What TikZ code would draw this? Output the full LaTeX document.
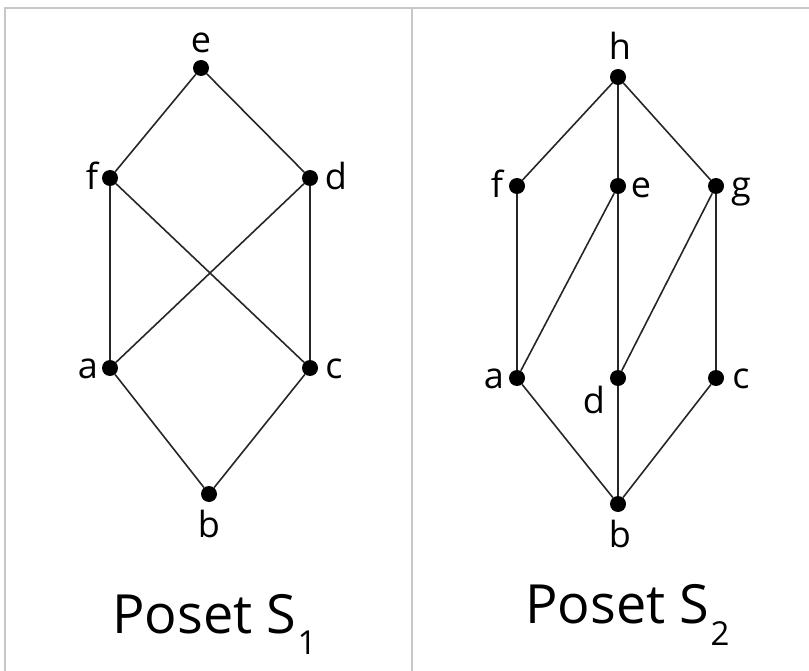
\documentclass[tikz,border=0pt]{standalone}
\usepackage{fontspec}
\setmainfont{Open Sans}
\begin{document}
\begin{tikzpicture}[x=1pt,y=-1pt,
  dot/.style={circle,fill=black,inner sep=0pt,minimum size=16pt},
  lbl/.style={anchor=base,inner sep=0pt,font=\fontsize{36}{36}\selectfont},
  ttl/.style={anchor=base west,inner sep=0pt,font=\fontsize{54}{54}\selectfont},
  sub/.style={anchor=base west,inner sep=0pt,font=\fontsize{33}{33}\selectfont},
  edge/.style={line width=1.6pt,black!85},
  frame/.style={line width=2pt,black!22}]
\useasboundingbox (0,0) rectangle (809,671);
% frame
\coordinate (fTL) at (5,8);
\coordinate (fTR) at (809,8);
\coordinate (fBL) at (5,671);
\coordinate (fMT) at (412,8);
\coordinate (fMB) at (412,671);
\draw[frame] (fBL) -- (fTL) -- (fTR);
\draw[frame] (fMT) -- (fMB);
% S1 nodes
\node[dot] (e1) at (201,68) {};
\node[dot] (f1) at (110,178) {};
\node[dot] (d1) at (310,178) {};
\node[dot] (a1) at (110,368) {};
\node[dot] (c1) at (310,368) {};
\node[dot] (b1) at (209,494) {};
\draw[edge] (e1) -- (f1);
\draw[edge] (e1) -- (d1);
\draw[edge] (f1) -- (a1);
\draw[edge] (f1) -- (c1);
\draw[edge] (d1) -- (a1);
\draw[edge] (d1) -- (c1);
\draw[edge] (a1) -- (b1);
\draw[edge] (c1) -- (b1);
\node[lbl] (le1) at (201,53) {e};
\node[lbl] (lf1) at (92,190) {f};
\node[lbl] (ld1) at (336,190) {d};
\node[lbl] (la1) at (88,378) {a};
\node[lbl] (lc1) at (334,378) {c};
\node[lbl] (lb1) at (209,537) {b};
% S2 nodes
\node[dot] (h2) at (618,77) {};
\node[dot] (f2) at (517,186) {};
\node[dot] (e2) at (618,186) {};
\node[dot] (g2) at (716,186) {};
\node[dot] (a2) at (517,378) {};
\node[dot] (d2) at (618,378) {};
\node[dot] (c2) at (716,378) {};
\node[dot] (b2) at (618,504) {};
\draw[edge] (h2) -- (f2);
\draw[edge] (h2) -- (e2);
\draw[edge] (h2) -- (g2);
\draw[edge] (f2) -- (a2);
\draw[edge] (e2) -- (a2);
\draw[edge] (e2) -- (d2);
\draw[edge] (g2) -- (d2);
\draw[edge] (g2) -- (c2);
\draw[edge] (a2) -- (b2);
\draw[edge] (d2) -- (b2);
\draw[edge] (c2) -- (b2);
\node[lbl] (lh2) at (620,60) {h};
\node[lbl] (lf2) at (497,198) {f};
\node[lbl] (le2) at (641,198) {e};
\node[lbl] (lg2) at (741,198) {g};
\node[lbl] (la2) at (494,388) {a};
\node[lbl] (ld2) at (594,413) {d};
\node[lbl] (lc2) at (741,388) {c};
\node[lbl] (lb2) at (620,547) {b};
% titles
\node[ttl] (t1) at (112,633) {Poset S};
\node[sub] (t1s) at (t1.base east) [yshift=-21pt,xshift=1pt] {1};
\node[ttl] (t2) at (525,623) {Poset S};
\node[sub] (t2s) at (t2.base east) [yshift=-22pt,xshift=1pt] {2};
\end{tikzpicture}
\end{document}
